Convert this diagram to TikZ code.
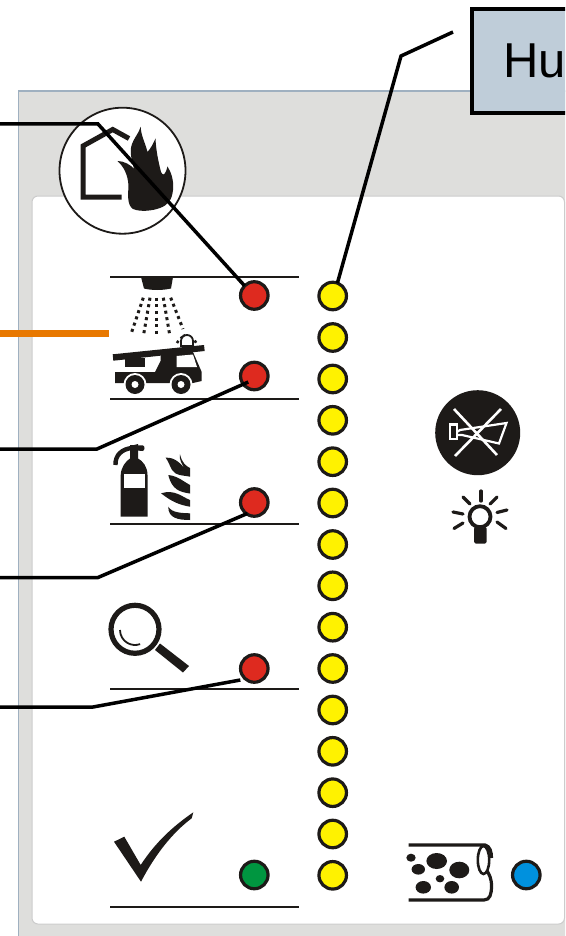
\documentclass[tikz,border=0pt]{standalone}
\usepackage{fontspec}
\setmainfont{Liberation Sans}
\definecolor{panelgrey}{HTML}{DEDEDC}
\definecolor{paneledge}{HTML}{9FB0C0}
\definecolor{cardedge}{HTML}{CCCCCC}
\definecolor{humboxfill}{HTML}{BFCDD9}
\definecolor{ink}{HTML}{1D1A18}
\definecolor{ledred}{HTML}{DE2A1F}
\definecolor{ledyellow}{HTML}{FFF200}
\definecolor{ledgreen}{HTML}{009640}
\definecolor{ledblue}{HTML}{0091DE}
\definecolor{wire}{HTML}{E87800}
\tikzset{
  led/.style={circle,draw=ink,line width=3.2pt,minimum size=27.5pt,inner sep=0pt,outer sep=0pt,fill=#1},
  rulebar/.style={draw=ink,line width=2.4pt},
  leader/.style={draw=black,line width=3.5pt,line join=miter},
  iconfill/.style={fill=ink,draw=none},
  iconline/.style={draw=ink,line width=5pt},
  spray/.style={draw=ink,line width=3pt,dash pattern=on 3pt off 3.6pt},
  blip/.style={draw=ink,line width=2.6pt,dash pattern=on 2.6pt off 3.4pt},
  ray/.style={draw=ink,line width=3.2pt,line cap=round},
}
\begin{document}
\begin{tikzpicture}[x=1pt,y=-1pt]
\useasboundingbox (0,0) rectangle (565,936);
\clip (0,0) rectangle (565,936);
% panels
\fill[white] (0,0) rectangle (565,936);
\path[fill=panelgrey,draw=paneledge,line width=1.5pt] (18.7,91) rectangle (580,950);
\path[fill=white,draw=cardedge,line width=1pt,rounded corners=6pt] (32,196) rectangle (564.5,924);
% label box
\node[draw=black,fill=humboxfill,line width=3.8pt,minimum width=140pt,minimum height=104pt,anchor=north west,inner sep=0pt,outer sep=0pt,text width=132pt,align=left,font=\fontsize{49}{52}\selectfont] (hum) at (472,9) {\hspace*{27pt}Hu};
% rules
\draw[rulebar] (110,277) -- (299,277);
\draw[rulebar] (110,399) -- (299,399);
\draw[rulebar] (110,524) -- (299,524);
\draw[rulebar] (110,689) -- (299,689);
\draw[rulebar] (110,907) -- (299,907);
% fire-in-building badge
\path[fill=white,draw=ink,line width=1.8pt] (122.5,170.7) circle (63);
\draw[iconline,line join=miter] (121.7,197) -- (83,197) -- (83,146) -- (112.7,129.5) -- (129,138.5);
\path[iconfill] (140.7,126.7) .. controls (141,136) and (145,142) .. (147.5,152)
  .. controls (151,148) and (153,144) .. (155.5,138.5)
  .. controls (156,150) and (158,160) .. (161,172)
  .. controls (163,176) and (165,176) .. (167.5,166.5)
  .. controls (171,172) and (174,180) .. (173,190)
  .. controls (172,200) and (168,205) .. (160,208)
  .. controls (152,211) and (140,212) .. (133,209)
  .. controls (127,205) and (128,195) .. (128.5,186)
  .. controls (128,175) and (124,167) .. (117.5,161)
  .. controls (124,161) and (131,165) .. (134,169)
  .. controls (132,160) and (129,152) .. (132,144)
  .. controls (134,138) and (139,133) .. (140.7,126.7) -- cycle;
% sprinkler
\path[iconfill] (141,277) -- (173,277) -- (171,288.5) .. controls (162,290.5) and (152,290.5) .. (144,288.5) -- cycle;
\draw[spray] (143.3,297.7) -- (130.7,335);
\draw[spray] (150,297.7) -- (143.3,336.5);
\draw[spray] (156.7,297.7) -- (156.7,337);
\draw[spray] (163.3,297.7) -- (170,336.5);
\draw[spray] (170.7,297.7) -- (183,329);
% fire engine
\draw[blip,rounded corners=5pt] (177,343) -- (181,337) -- (186,335) -- (193,338) -- (197,344);
\path[iconfill] (112.7,354.3) -- (204,345) -- (204.7,351) -- (113.3,360.7) -- cycle;
\path[iconfill] (125,358) -- (145,358) -- (145,367) -- (125,367) -- cycle;
\path[iconfill] (115,372) -- (155,372) -- (160.5,361) -- (161,350) -- (178,348) -- (193,352) -- (201.7,372) -- (201.7,381) -- (193,383) -- (115,383) -- cycle;
\path[fill=white] (176.7,356) -- (193,354.5) -- (197,367) -- (176.7,367) -- cycle;
\path[fill=white,draw=ink,line width=1.8pt] (181,346) -- (181,341) arc[start angle=180,end angle=360,radius=6] -- (193,346) -- cycle;
\path[fill=white] (135,384.5) circle (11.5) (181,384.5) circle (11.5);
\path[fill=ink] (135,384.5) circle (9.5) (181,384.5) circle (9.5);
\path[fill=white] (135,384.5) circle (3.5) (181,384.5) circle (3.5);
% extinguisher
\path[iconfill] (120.7,516.7) -- (120.7,475) .. controls (121,467) and (126,461) .. (130,458.5) -- (130,446) -- (138,444) -- (138,458.5) .. controls (143,461) and (147.5,467) .. (147.5,475) -- (147.5,516.7) -- cycle;
\path[iconfill] (130,445) -- (143,445.5) .. controls (145,446) and (145,450) .. (143,451) -- (130,450) -- cycle;
\draw[draw=ink,line width=4.4pt] (132,448) .. controls (122,449) and (115,455) .. (115.5,465);
\path[fill=white] (124,474.3) rectangle (144.5,487.7);
% extinguisher flames
\path[iconfill] (165.7,457.7) .. controls (175,457) and (181,464) .. (185,469) .. controls (182,464) and (179,460) .. (180,454.3) .. controls (182,463) and (186,466) .. (190,468) -- (190,476.7) .. controls (182,475) and (176,476) .. (172,470) .. controls (170,466) and (168,461) .. (165.7,457.7) -- cycle;
\path[iconfill] (168.3,475) .. controls (178,476) and (184,482) .. (190,485) -- (190,493.5) .. controls (180,492) and (172,490) .. (168.3,475) -- cycle;
\path[iconfill] (161,493.3) .. controls (175,489) and (182,497) .. (190,500) -- (190,506.7) .. controls (180,505) and (172,502) .. (161,493.3) -- cycle;
\path[iconfill] (168.3,506.7) .. controls (172,513) and (182,513) .. (190,513.3) -- (190,520) .. controls (178,520) and (168,518) .. (168.3,506.7) -- cycle;
% magnifier
\draw[draw=ink,line width=5.2pt] (135,629.3) circle (24);
\draw[draw=ink,line width=1.8pt] (120,630) arc[start angle=180,end angle=70,radius=15];
\path[iconfill] (160,643.5) -- (189,666) -- (183,672.5) -- (155,650) -- cycle;
% check
\path[iconfill] (114,841.7) -- (124.3,836.7) -- (140.7,865) .. controls (155,843) and (172,827) .. (193.3,812.3) -- (191.7,818.3) .. controls (172,833) and (155,855) .. (141,881.7) -- cycle;
% horn
\path[fill=ink] (477.7,432.7) circle (42.5);
\draw[white,line width=2.2pt,line join=miter] (450,424.5) rectangle (457,439);
\draw[white,line width=2.2pt,line join=miter] (457,432) -- (460,430) -- (506.5,423) -- (499,443.5) -- (462,435) -- (457,435);
\draw[white,line width=2.6pt] (454,409) -- (497,455);
\draw[white,line width=2.6pt] (501,409) -- (455,456);
% lamp
\draw[draw=ink,line width=3.8pt] (480,516.7) circle (10.5);
\path[iconfill,rounded corners=1.5pt] (474,527) -- (486.5,527) -- (486.5,543.5) -- (474,543.5) -- cycle;
\draw[ray] (481,491) -- (481,501);
\draw[ray] (463,497) -- (470,504);
\draw[ray] (453,512) -- (463,514);
\draw[ray] (454,528.5) -- (463,523);
\draw[ray] (497,497) -- (490,504);
\draw[ray] (507,510) -- (497,512.5);
\draw[ray] (506,528.5) -- (497,522);
% clogged pipe
\draw[draw=ink,line width=3.2pt] (408.5,845) -- (485,845) .. controls (490,846) and (491.5,852) .. (491.5,858);
\draw[draw=ink,line width=3.2pt] (408.5,900) -- (484,900) .. controls (490,900) and (491.5,894) .. (491.5,886) .. controls (491.5,878) and (489,874) .. (487,871);
\draw[draw=ink,line width=2.6pt] (483.5,860) ellipse (5.7 and 14);
\path[iconfill] (411,857.7) ellipse (4.7 and 4) (436.7,861) ellipse (10.3 and 8) (418.3,869.3) ellipse (6.7 and 5.3) (459.3,870) ellipse (10 and 8.3) (440,878.7) ellipse (4.3 and 3.7) (423.3,887.3) ellipse (7.7 and 6.3) (451.7,887.3) ellipse (7.3 and 6.3);
% LEDs
\node[led=ledred] (r1) at (254.3,295.5) {};
\node[led=ledred] (r2) at (254.3,376) {};
\node[led=ledred] (r3) at (254.3,502.5) {};
\node[led=ledred] (r4) at (254.3,668.5) {};
\node[led=ledgreen] (g1) at (254.3,875) {};
\node[led=ledblue] (b1) at (526.3,875) {};
\foreach \n/\y in {1/296,2/337.5,3/379,4/420.3,5/461.7,6/503,7/544.5,8/585.8,9/627.2,10/668.5,11/710,12/751.3,13/792.7,14/834,15/875.3}
  \node[led=ledyellow] (y\n) at (332.7,\y) {};
% free ends and bends
\coordinate (a0) at (0,124);
\coordinate (a1) at (98,124);
\coordinate (w0) at (0,333.3);
\coordinate (w1) at (108.5,333.3);
\coordinate (c0) at (0,449);
\coordinate (c1) at (97,449);
\coordinate (d0) at (0,577.5);
\coordinate (d1) at (98,577.5);
\coordinate (e0) at (0,707);
\coordinate (e1) at (93,707);
\coordinate (f1) at (401,56);
\coordinate (f2) at (453,32);
% connectors
\draw[leader] (a0) -- (a1) -- (r1.135);
\draw[wire,line width=7pt] (w0) -- (w1);
\draw[leader] (c0) -- (c1) -- ([xshift=-6pt,yshift=-6pt]r2.center);
\draw[leader] (d0) -- (d1) -- ([xshift=-7pt,yshift=-11pt]r3.center);
\draw[leader] (e0) -- (e1) -- ([xshift=-14pt,yshift=-11.5pt]r4.center);
\draw[leader] (f2) -- (f1) -- (y1.70);
\end{tikzpicture}
\end{document}
